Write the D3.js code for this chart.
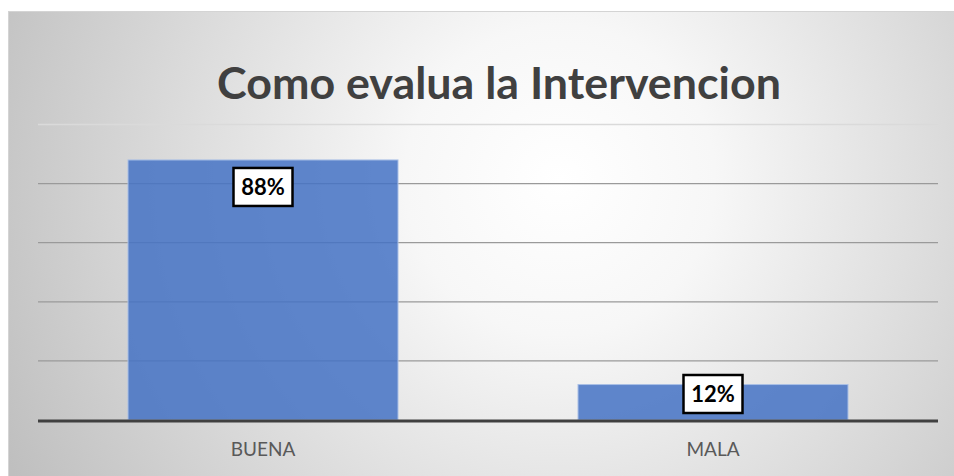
<!DOCTYPE html>
<html>
<head>
<meta charset="utf-8">
<script src="https://cdn.jsdelivr.net/npm/d3@7"></script>
<style>
  body { margin: 0; background: #fff; }
  svg { display: block; }
</style>
</head>
<body>
<script>
const width = 954;
const height = 476;

// chart data
const categories = ['BUENA', 'MALA'];
const values = [0.88, 0.12];
const valueLabels = ['88%', '12%'];
const yTicks = [0.2, 0.4, 0.6, 0.8, 1.0];

const titleText = 'Como evalua la Intervencion';

const plotLeft = 38
const plotRight = 938
const plotTop = 124.5
const plotBottom = 420

const svg = d3.select('body')
  .append('svg')
  .attr('width', width)
  .attr('height', height);

// background gradient like the office chart style
const defs = svg.append('defs');
const grad = defs.append('radialGradient')
  .attr('id', 'bg')
  .attr('gradientUnits', 'userSpaceOnUse')
  .attr('cx', 560)
  .attr('cy', 180)
  .attr('r', 620);
grad.append('stop').attr('offset', '0%').attr('stop-color', '#ffffff');
grad.append('stop').attr('offset', '25%').attr('stop-color', '#f7f7f7');
grad.append('stop').attr('offset', '100%').attr('stop-color', '#bfbfbf');

svg.append('rect')
  .attr('x', 8.5)
  .attr('y', 11.5)
  .attr('width', width - 8)
  .attr('height', height - 11)
  .attr('fill', 'url(#bg)')
  .attr('stroke', '#d4d4d4')
  .attr('stroke-width', 1);

// scales
const x = d3.scaleBand()
  .domain(categories)
  .range([plotLeft, plotRight])
  .paddingInner(0.4)
  .paddingOuter(0.2);

const y = d3.scaleLinear()
  .domain([0, 1])
  .range([plotBottom, plotTop]);

// gridlines
svg.append('g')
  .selectAll('line')
  .data(yTicks)
  .enter()
  .append('line')
  .attr('x1', plotLeft)
  .attr('x2', plotRight)
  .attr('y1', d => y(d))
  .attr('y2', d => y(d))
  .attr('stroke', d => d === 1 ? '#dadada' : '#9a9a9a')
  .attr('stroke-width', 1.3);

// bars
svg.append('g')
  .selectAll('rect')
  .data(values)
  .enter()
  .append('rect')
  .attr('x', (d, i) => x(categories[i]))
  .attr('y', d => y(d))
  .attr('width', x.bandwidth())
  .attr('height', d => y(0) - y(d))
  .attr('fill', '#4472c4')
  .attr('fill-opacity', 0.85)
  .attr('stroke', '#a9bfe6')
  .attr('stroke-width', 1);

// baseline
svg.append('line')
  .attr('x1', plotLeft)
  .attr('x2', plotRight)
  .attr('y1', y(0) + 1)
  .attr('y2', y(0) + 1)
  .attr('stroke', '#404040')
  .attr('stroke-width', 3);

// category labels
const xAxis = svg.append('g')
  .attr('transform', `translate(0,${plotBottom})`)
  .call(d3.axisBottom(x).tickSize(0).tickPadding(23));
xAxis.select('.domain').remove();
xAxis.selectAll('text')
  .attr('font-family', 'Lato, "Open Sans", sans-serif')
  .attr('font-size', 19)
  .attr('fill', '#595959');

// data labels in white boxes
const boxW = 59, boxH = 38;
const labels = svg.append('g')
  .selectAll('g')
  .data(values)
  .enter()
  .append('g')
  .attr('transform', (d, i) => {
    const cx = x(categories[i]) + x.bandwidth() / 2;
    const cy = Math.min(y(d) + 27, plotBottom - 7 - boxH / 2);
    return `translate(${cx},${cy})`;
  });
labels.append('rect')
  .attr('x', -boxW / 2)
  .attr('y', -boxH / 2)
  .attr('width', boxW)
  .attr('height', boxH)
  .attr('fill', '#fff')
  .attr('stroke', '#000')
  .attr('stroke-width', 2.5);
labels.append('text')
  .text((d, i) => valueLabels[i])
  .attr('text-anchor', 'middle')
  .attr('dy', '0.36em')
  .attr('font-family', 'Lato, "Open Sans", sans-serif')
  .attr('font-weight', 'bold')
  .attr('font-size', 22)
  .attr('fill', '#000');

// title
svg.append('text')
  .text(titleText)
  .attr('x', 499)
  .attr('y', 99)
  .attr('text-anchor', 'middle')
  .attr('font-family', 'Lato, "Open Sans", sans-serif')
  .attr('font-weight', 'bold')
  .attr('font-size', 44)
  .attr('textLength', 564)
  .attr('lengthAdjust', 'spacingAndGlyphs')
  .attr('fill', '#404040');
</script>
</body>
</html>
